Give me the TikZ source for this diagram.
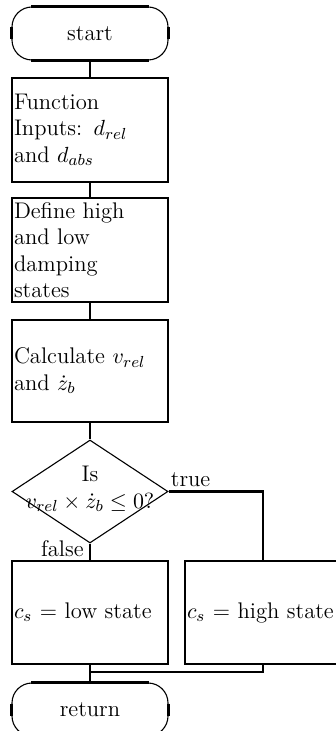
\documentclass[tikz,border=0pt]{standalone}
\usetikzlibrary{shapes.geometric}
\begin{document}
\begin{tikzpicture}[x=0.5pt,y=-0.5pt,
  every node/.style={font=\fontsize{11.3}{13.2}\selectfont},
  thk/.style={line width=1.4pt},
  thn/.style={line width=0.55pt},
  procbox/.style={draw, thk, rectangle, minimum width=78pt, text width=76pt, inner xsep=1pt, inner ysep=0pt, align=left},
  termbox/.style={draw, thn, rectangle, rounded corners=10pt, minimum width=78pt, minimum height=26.5pt, inner sep=0pt},
  decision/.style={draw, thn, diamond, minimum width=78pt, minimum height=51.5pt, inner sep=0pt},
  lbl/.style={inner sep=1pt}
]
\useasboundingbox (0,0) rectangle (336,731);
\clip (0,0) rectangle (336,731);

% terminals
\node[termbox] (start) at (90,33.5) {start};
\draw[thk] ([xshift=10pt]start.north west) -- ([xshift=-10pt]start.north east);
\draw[thk] ([xshift=10pt]start.south west) -- ([xshift=-10pt]start.south east);
\draw[thk] ([yshift=3pt]start.west) -- ([yshift=-3pt]start.west);
\draw[thk] ([yshift=3pt]start.east) -- ([yshift=-3pt]start.east);

\node[procbox, minimum height=52pt] (inp) at (90,130) {Function\\Inputs: $d_{rel}$\\and $d_{abs}$};
\node[procbox, minimum height=52pt] (def) at (90,250) {Define high\\and low\\damping\\states};
\node[procbox, minimum height=51pt] (calc) at (90,371) {Calculate $v_{rel}$\\and $\dot{z}_b$};

\node[decision] (q) at (90,491.5) {};
\node[inner sep=0pt, align=center] (qt) at (90,489) {Is\\$v_{rel}\times\dot{z}_b\leq 0?$};

\node[procbox, minimum height=51.5pt] (low) at (90,612.5) {$c_s$ = low state};
\node[procbox, minimum height=51.5pt] (high) at (263,612.5) {$c_s$ = high state};

\node[termbox] (ret) at (90,709.5) {return};
\draw[thk] ([xshift=10pt]ret.north west) -- ([xshift=-10pt]ret.north east);
\draw[thk] ([yshift=3pt]ret.west) -- ([yshift=-3pt]ret.west);
\draw[thk] ([yshift=3pt]ret.east) -- ([yshift=-3pt]ret.east);

% connectors
\draw[thk] (start.south) -- (inp.north);
\draw[thk] (inp.south) -- (def.north);
\draw[thk] (def.south) -- (calc.north);
\draw[thk] (calc.south) -- (q.north);
\draw[thk] (q.east) -| (high.north);
\draw[thk] (q.south) -- (low.north);
\draw[thk] (low.south) -- (ret.north);
\coordinate (j) at (90,672);
\draw[thk] (high.south) |- (j);

\node[lbl, anchor=south west] (tl) at ([yshift=1pt]q.east) {true};
\node[lbl, anchor=south east] (fl) at ([xshift=-2pt]low.north) {false};
\end{tikzpicture}
\end{document}
